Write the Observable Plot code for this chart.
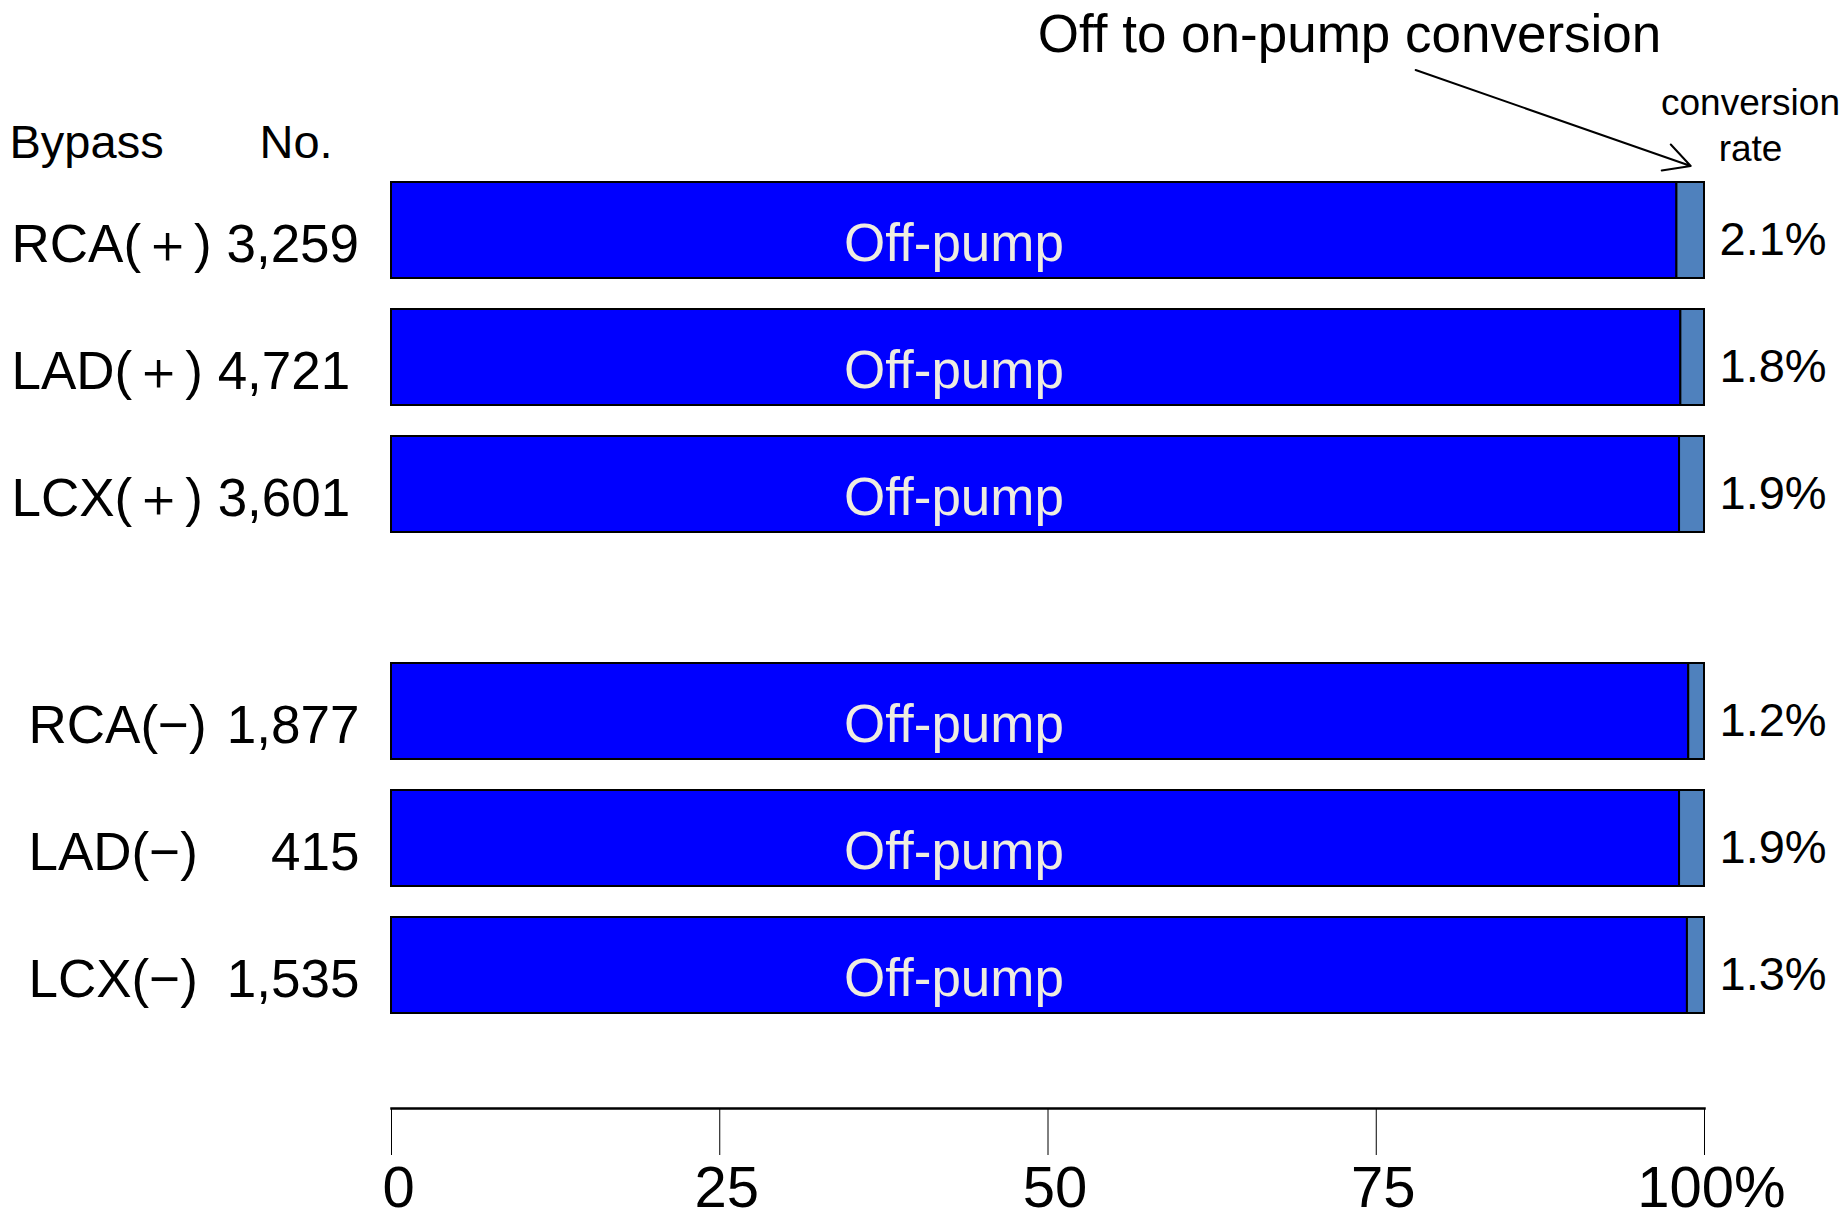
<!DOCTYPE html>
<html><head><meta charset="utf-8">
<script src="https://cdn.jsdelivr.net/npm/d3@7"></script>
<script src="https://cdn.jsdelivr.net/npm/@observablehq/plot@0.6"></script>
<style>
body{margin:0;background:#fff;}
#chart svg{display:block;}
</style></head><body><div id="chart"></div>
<script>
// ---- data ----
const bypass = ["RCA(＋)", "LAD(＋)", "LCX(＋)", "RCA(−)", "LAD(−)", "LCX(−)"];
const graftGroup = ["+", "+", "+", "−", "−", "−"];
const patients = [3259, 4721, 3601, 1877, 415, 1535];
const conversionRate = [2.1, 1.8, 1.9, 1.2, 1.9, 1.3];
const xTicks = [0, 25, 50, 75, 100];
const segmentLabel = "Off-pump";
const titleText = "Off to on-pump conversion";
const headerLeft = ["Bypass", "No."];
const headerRight = "conversion\nrate";

const rows = bypass.map((b, i) => ({bypass: b, group: graftGroup[i], n: patients[i], rate: conversionRate[i]}));
const topRows = rows.filter(d => d.group === "+");
const bottomRows = rows.filter(d => d.group === "−");

const FONT = "'Liberation Sans', Arial, Helvetica, sans-serif";
const fmtN = d3.format(",");
const fmtRate = d => d3.format(".1f")(d) + "%";

function barMarks(data) {
  return [
    Plot.barX(data, {y: "bypass", x1: 0, x2: d => 100 - d.rate, fill: "#0000FF", stroke: "#000", strokeWidth: 2}),
    Plot.barX(data, {y: "bypass", x1: d => 100 - d.rate, x2: 100, fill: "#4F81BD", stroke: "#000", strokeWidth: 2}),
    Plot.text(data, {y: "bypass", text: () => segmentLabel, frameAnchor: "middle", dx: -94, dy: 30, lineAnchor: "bottom", fill: "#EEECE1", fontSize: 53}),
    Plot.text(data, {y: "bypass", text: d => fmtRate(d.rate), frameAnchor: "right", dx: 15, dy: 24, textAnchor: "start", lineAnchor: "bottom", fill: "#000", fontSize: 47})
  ];
}

const common = {width: 1843, marginLeft: 391, marginRight: 139, style: {fontFamily: FONT, background: "#fff", color: "#000"}};

// top group: bypass (+)
// arrow: x in percent units; y in pixels (Plot adds half the band width to these)
const arrowNote = [{x1: 78, x2: 100 - topRows[0].rate / 2, y1: 21.5, y2: 117.5}];
const topChart = Plot.plot({
  ...common,
  height: 600, marginTop: 150, marginBottom: 35,
  x: {domain: [0, 100], axis: null},
  y: {domain: topRows.map(d => d.bypass), padding: 0.2422, axis: null},
  marks: [
    ...barMarks(topRows),
    Plot.text(topRows, {y: "bypass", text: d => `${d.bypass} ${fmtN(d.n)}`, frameAnchor: "left", dx: -380, dy: 31, textAnchor: "start", lineAnchor: "bottom", fontSize: 53, fill: "#000"}),
    Plot.text([headerLeft[0]], {text: d => d, frameAnchor: "top-left", dx: -382, dy: 7, textAnchor: "start", lineAnchor: "bottom", fontSize: 47, fill: "#000"}),
    Plot.text([headerLeft[1]], {text: d => d, frameAnchor: "top-left", dx: -132, dy: 7, textAnchor: "start", lineAnchor: "bottom", fontSize: 47, fill: "#000"}),
    Plot.text([headerRight], {text: d => d, frameAnchor: "top-right", dx: 46, dy: 10, textAnchor: "middle", lineAnchor: "bottom", lineHeight: 1.22, fontSize: 37, fill: "#000"}),
    Plot.text([titleText], {text: d => d, frameAnchor: "top-right", dx: -355, dy: -99, textAnchor: "middle", lineAnchor: "bottom", fontSize: 53, fill: "#000"}),
    Plot.arrow(arrowNote, {x1: "x1", x2: "x2", y1: {value: "y1", scale: null}, y2: {value: "y2", scale: null}, stroke: "#000", strokeWidth: 2, headLength: 22, headAngle: 56})
  ]
});

// bottom group: bypass (−) with the percentage axis
const bottomChart = Plot.plot({
  ...common,
  height: 618, marginTop: 31, marginBottom: 110,
  x: {domain: [0, 100], label: null},
  y: {domain: bottomRows.map(d => d.bypass), padding: 0.2422, range: [31, 446], axis: null},
  marks: [
    ...barMarks(bottomRows),
    Plot.text(bottomRows, {y: "bypass", text: "bypass", frameAnchor: "left", dx: -363, dy: 31, textAnchor: "start", lineAnchor: "bottom", fontSize: 53, fill: "#000"}),
    Plot.text(bottomRows, {y: "bypass", text: d => fmtN(d.n), frameAnchor: "left", dx: -32, dy: 31, textAnchor: "end", lineAnchor: "bottom", fontSize: 53, fill: "#000"}),
    Plot.frame({anchor: "bottom", stroke: "#000", strokeWidth: 2.5}),
    Plot.axisX(xTicks, {tickSize: 47, tickPadding: 0, stroke: "#000", label: null, tickFormat: () => ""}),
    Plot.axisX(xTicks, {tickSize: 0, tickPadding: 57, dx: 7, fontSize: 58, fill: "#000", label: null, tickFormat: d => d === 100 ? "100%" : String(d)})
  ]
});

document.getElementById("chart").append(topChart, bottomChart);
</script>
</body></html>
